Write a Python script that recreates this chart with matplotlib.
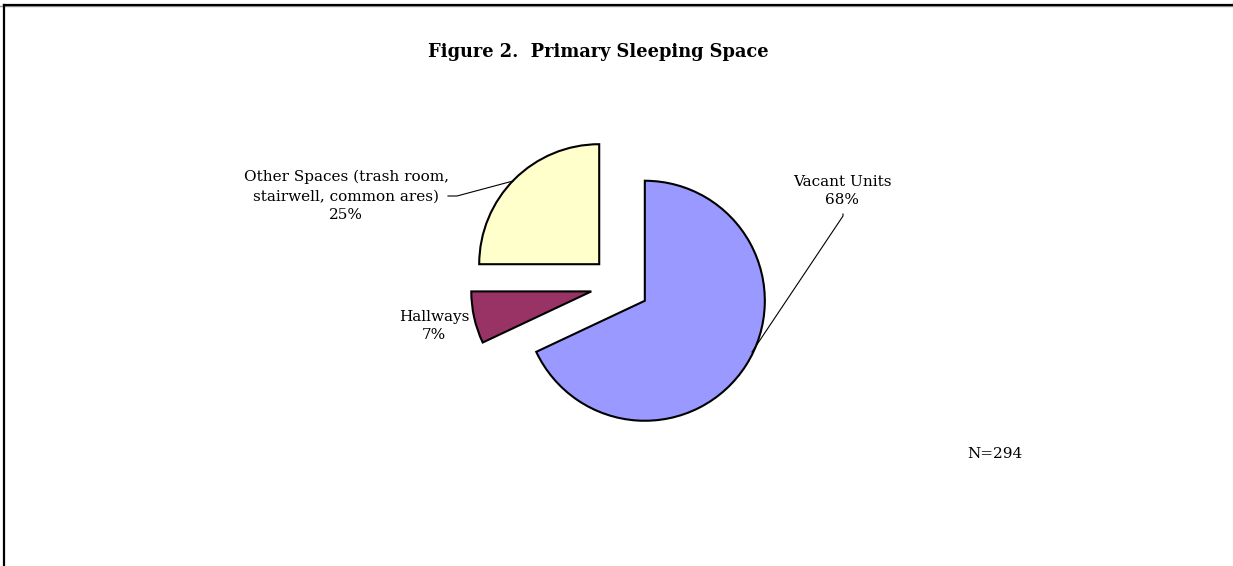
import matplotlib
matplotlib.use("Agg")
import matplotlib.pyplot as plt
from matplotlib.lines import Line2D

plt.rcParams['font.family'] = ['DejaVu Serif']

# sleeping space shares (percent)
categories = ["Vacant Units", "Hallways", "Other Spaces (trash room,\nstairwell, common ares)"]
shares = [68, 7, 25]
colors = ["#9999FF", "#993366", "#FFFFCC"]
n_total = 294

W, H = 1233, 566
fig = plt.figure(figsize=(W / 100, H / 100), dpi=100)
ax = fig.add_axes([0, 0, 1, 1])

# pie in pixel units, every slice pulled out the same distance
R = 120
cx, cy = 620, H - 285
wedges, _ = ax.pie(shares, colors=colors, startangle=90, counterclock=False,
                   radius=R, center=(cx, cy), explode=[0.245 * R] * 3,
                   wedgeprops=dict(edgecolor="black", linewidth=1.5),
                   frame=True)
ax.set_xlim(0, W)
ax.set_ylim(0, H)
ax.set_aspect("equal")
ax.axis("off")

def lbl(i):
    return f"{categories[i]}\n{shares[i]}%"

fs = 11
ls = 1.45
ax.text(842, H - 191, lbl(0), ha="center", va="center", fontsize=fs, linespacing=ls)
ax.text(434, H - 326, lbl(1), ha="center", va="center", fontsize=fs, linespacing=ls)
ax.text(346, H - 196, lbl(2), ha="center", va="center", fontsize=fs, linespacing=ls)

# leader lines
ax.plot([843, 843, 752], [H - 214, H - 216, H - 352], color="black", lw=0.8)
ax.plot([448, 457, 513], [H - 196, H - 196, H - 181], color="black", lw=0.8)

ax.text(598, H - 52, "Figure 2.  Primary Sleeping Space", ha="center", va="center",
        fontsize=12.8, fontweight="bold")
ax.text(995, H - 454, f"N={n_total}", ha="center", va="center", fontsize=fs)

# frame along top and left edge
fig.add_artist(Line2D([0, 1], [1 - 6.0 / H, 1 - 6.0 / H], color="#999999", lw=1.0))
fig.add_artist(Line2D([4.0 / W, 1], [1 - 4.5 / H, 1 - 4.5 / H], color="black", lw=1.6))
fig.add_artist(Line2D([4.0 / W, 4.0 / W], [0, 1 - 4.5 / H], color="black", lw=1.6))

fig.savefig("out.png", dpi=100)
